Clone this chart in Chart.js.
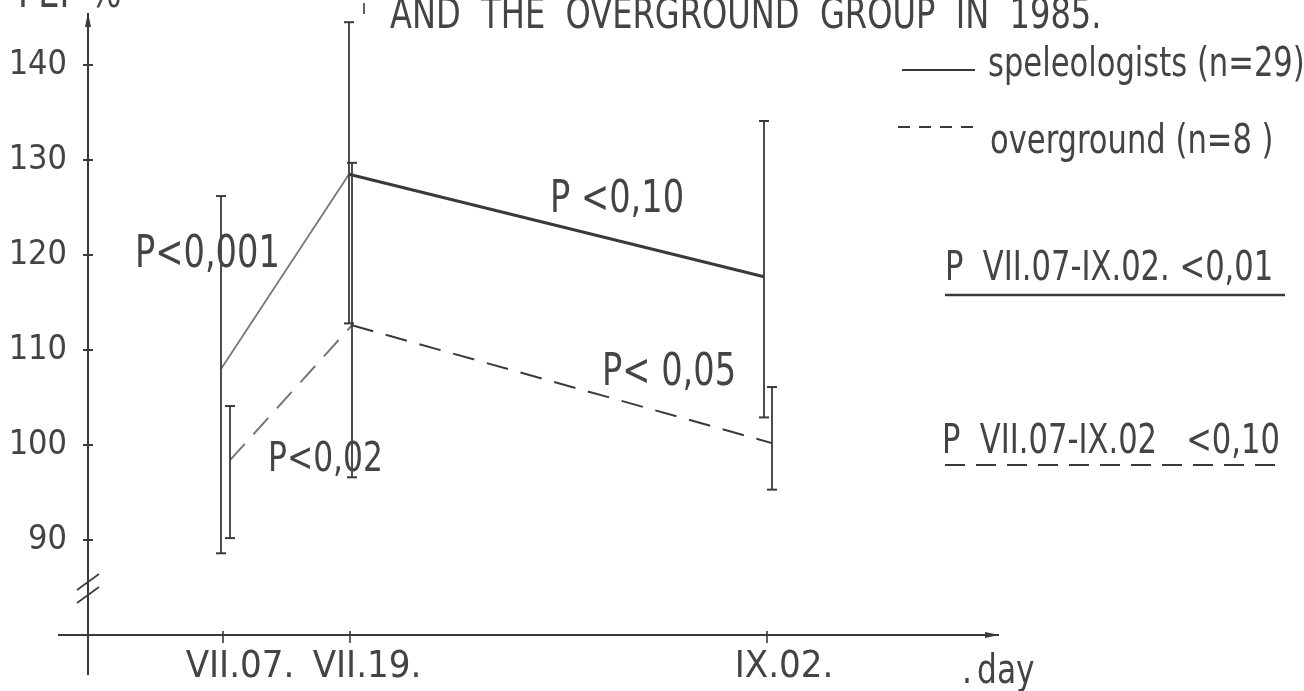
<!DOCTYPE html>
<html>
<head>
<meta charset="utf-8">
<script src="https://cdn.jsdelivr.net/npm/chart.js@4/dist/chart.umd.min.js"></script>
<style>
  body { margin: 0; background: #fff; }
  #wrap { width: 1304px; height: 691px; }
</style>
</head>
<body>
<div id="wrap"><canvas id="grafica" width="1304" height="691"></canvas></div>
<script>
// dias de medicion y posiciones en el eje (dibujo no a escala)
var xLabels = ['VII.07.', 'VII.19.', 'IX.02.'];
var xTickPos = [1.35, 2.62, 6.79];
var yTicks = [90, 100, 110, 120, 130, 140];

// espeleologos (n=29)
var speleoX = [1.33, 2.61, 6.76];
var speleoMean = [108, 128.5, 117.7];
var speleoLow = [88.6, 112.8, 102.9];
var speleoHigh = [126.2, 144.5, 134.1];

// grupo de superficie (n=8)
var overX = [1.42, 2.64, 6.84];
var overMean = [98.4, 112.6, 100.2];
var overLow = [90.2, 96.6, 95.3];
var overHigh = [104.1, 129.7, 106.1];

var tinta = '#3a3a3a';
var fuente = '"DejaVu Sans Condensed", "DejaVu Sans", sans-serif';

function puntos(xs, ys) {
  return xs.map(function(x, i) { return { x: x, y: ys[i] }; });
}

function linea(ctx, x1, y1, x2, y2, w, dash) {
  ctx.save();
  ctx.beginPath();
  ctx.lineWidth = w;
  ctx.strokeStyle = tinta;
  ctx.setLineDash(dash || []);
  ctx.moveTo(x1, y1);
  ctx.lineTo(x2, y2);
  ctx.stroke();
  ctx.restore();
}

// texto estrecho (letra alta y angosta como la del original)
function texto(ctx, t, x, y, size) {
  ctx.save();
  ctx.fillStyle = '#444';
  ctx.font = size + 'px ' + fuente;
  ctx.textAlign = 'left';
  ctx.textBaseline = 'alphabetic';
  ctx.translate(x, y);
  ctx.scale(0.85, 1);
  ctx.fillText(t, 0, 0);
  ctx.restore();
}

function barras(ctx, sx, sy, xs, lo, hi) {
  for (var i = 0; i < xs.length; i++) {
    var x = sx.getPixelForValue(xs[i]);
    var y1 = sy.getPixelForValue(lo[i]);
    var y2 = sy.getPixelForValue(hi[i]);
    linea(ctx, x, y1, x, y2, 1.8);
    linea(ctx, x - 5, y1, x + 5, y1, 2);
    linea(ctx, x - 5, y2, x + 5, y2, 2);
  }
}

var dibujo = {
  id: 'dibujo',
  afterDatasetsDraw: function(chart) {
    var ctx = chart.ctx;
    var sx = chart.scales.x, sy = chart.scales.y;
    var a = chart.chartArea;

    // ejes
    linea(ctx, a.left, a.top, a.left, a.bottom + 40, 2);
    linea(ctx, a.left - 30, a.bottom, a.right, a.bottom, 2.2);
    ctx.save();
    ctx.fillStyle = tinta;
    ctx.beginPath();
    ctx.moveTo(a.left, a.top);
    ctx.lineTo(a.left - 3, a.top + 14);
    ctx.lineTo(a.left + 3, a.top + 14);
    ctx.closePath();
    ctx.fill();
    ctx.beginPath();
    ctx.moveTo(a.right, a.bottom);
    ctx.lineTo(a.right - 14, a.bottom - 3);
    ctx.lineTo(a.right - 14, a.bottom + 3);
    ctx.closePath();
    ctx.fill();
    ctx.restore();

    // marcas de los ejes
    yTicks.forEach(function(v) {
      var y = sy.getPixelForValue(v);
      linea(ctx, a.left - 5, y, a.left + 5, y, 2);
    });
    xTickPos.forEach(function(v) {
      var x = sx.getPixelForValue(v);
      linea(ctx, x, a.bottom - 4, x, a.bottom + 8, 1.6);
    });

    // corte del eje
    linea(ctx, a.left - 11, 590, a.left + 11, 574, 1.6);
    linea(ctx, a.left - 11, 603, a.left + 11, 587, 1.6);

    // barras de error
    barras(ctx, sx, sy, speleoX, speleoLow, speleoHigh);
    barras(ctx, sx, sy, overX, overLow, overHigh);

    // textos
    texto(ctx, 'PEF %', 18, 7, 44);
    linea(ctx, 364, 3, 364, 14, 1.6);
    texto(ctx, 'AND  THE  OVERGROUND  GROUP  IN  1985.', 390, 28, 42);
    texto(ctx, 'P<0,001', 135, 267, 44);
    texto(ctx, 'P<0,02', 268, 471, 41);
    texto(ctx, 'P <0,10', 550, 212, 44);
    texto(ctx, 'P< 0,05', 602, 385, 44);
    texto(ctx, '.', 962, 683, 41);
    texto(ctx, 'day', 977, 683, 41);

    // leyenda
    linea(ctx, 902, 70, 975, 70, 2);
    texto(ctx, 'speleologists (n=29)', 988, 76, 40);
    linea(ctx, 898, 127, 978, 127, 2, [12, 9]);
    texto(ctx, 'overground (n=8 )', 990, 153, 40);

    texto(ctx, 'P  VII.07-IX.02. <0,01', 945, 280, 40);
    linea(ctx, 945, 295, 1285, 295, 2.5);
    texto(ctx, 'P  VII.07-IX.02   <0,10', 942, 453, 40);
    linea(ctx, 945, 465, 1283, 465, 2, [20, 11]);
  }
};

var ctx = document.getElementById('grafica').getContext('2d');
new Chart(ctx, {
  type: 'line',
  data: {
    datasets: [{
      label: 'speleologists (n=29)',
      data: puntos(speleoX, speleoMean),
      borderColor: tinta,
      borderWidth: 3,
      pointRadius: 0,
      segment: {
        borderWidth: function(c) { return c.p0DataIndex === 0 ? 1.8 : 3; },
        borderColor: function(c) { return c.p0DataIndex === 0 ? '#777' : tinta; }
      }
    }, {
      label: 'overground (n=8)',
      data: puntos(overX, overMean),
      borderColor: tinta,
      borderWidth: 2,
      borderDash: [22, 13],
      pointRadius: 0,
      segment: {
        borderColor: function(c) { return c.p0DataIndex === 0 ? '#777' : tinta; }
      }
    }]
  },
  options: {
    responsive: false,
    animation: false,
    layout: { padding: { top: 13, right: 305, left: 0, bottom: 0 } },
    plugins: { legend: { display: false }, tooltip: { enabled: false } },
    scales: {
      x: {
        type: 'linear',
        min: 0,
        max: 9.11,
        grid: { display: false, drawTicks: false },
        border: { display: false },
        afterBuildTicks: function(s) { s.ticks = xTickPos.map(function(v) { return { value: v }; }); },
        afterFit: function(s) { s.height = 56; s.paddingLeft = 0; s.paddingRight = 0; },
        ticks: {
          padding: 9,
          labelOffset: 17,
          maxRotation: 0,
          color: '#444',
          font: { family: fuente, size: 38 },
          callback: function(v, i) { return xLabels[i]; }
        }
      },
      y: {
        min: 80,
        max: 145.47,
        grid: { display: false, drawTicks: false },
        border: { display: false },
        afterBuildTicks: function(s) { s.ticks = yTicks.map(function(v) { return { value: v }; }); },
        afterFit: function(s) { s.width = 88; s.paddingTop = 0; s.paddingBottom = 0; },
        ticks: {
          padding: 21,
          color: '#444',
          font: { family: fuente, size: 34 }
        }
      }
    }
  },
  plugins: [dibujo]
});
</script>
</body>
</html>
